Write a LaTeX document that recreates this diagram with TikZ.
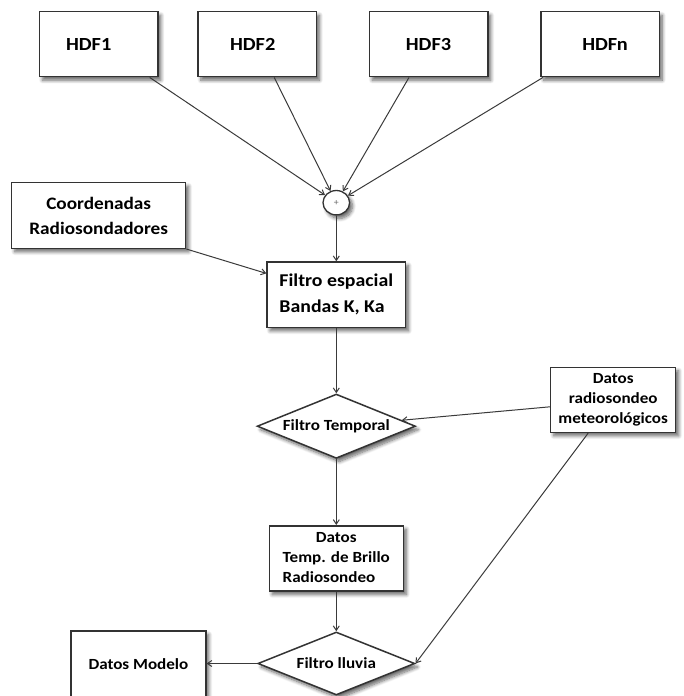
\documentclass[tikz,border=0pt]{standalone}
\usepackage{fontspec}
\setmainfont{Carlito}[FakeStretch=1.1]
\usetikzlibrary{shapes.geometric,arrows.meta,shadows.blur}

\definecolor{boxline}{HTML}{333333}
\definecolor{linecol}{HTML}{3A3A3A}

\begin{document}
\begin{tikzpicture}[x=1pt,y=-1pt,
  softshadow/.style={blur shadow={shadow xshift=3pt,shadow yshift=-3.5pt,
      shadow blur radius=3.5pt,shadow blur steps=8,shadow opacity=60}},
  box/.style={draw=boxline,line width=1.5pt,fill=white,softshadow,inner sep=0pt,
      align=center,font=\bfseries\fontsize{15.5}{20}\selectfont},
  hdfbox/.style={box,minimum width=118.5pt,minimum height=65pt,
      font=\bfseries\fontsize{18.5}{22}\selectfont},
  decision/.style={diamond,draw=boxline,line width=1.5pt,fill=white,softshadow,
      inner sep=0pt,aspect=2.47,font=\bfseries\fontsize{15.5}{20}\selectfont},
  link/.style={draw=linecol,line width=1pt,
      -{Straight Barb[length=4.5pt,width=6pt]}},
]
\useasboundingbox (0,0) rectangle (684,696);

% input files
\node[hdfbox] (h1) at (98.7,44.2) {\hspace*{-20pt}HDF1};
\node[hdfbox] (h2) at (257.2,44.2) {\hspace*{-9pt}HDF2};
\node[hdfbox] (h3) at (428.5,44.2) {HDF3};
\node[hdfbox] (hn) at (600,44.2) {\hspace*{10pt}HDFn};

% merge point
\node[ellipse,draw=boxline,line width=1.3pt,fill=white,softshadow,inner sep=0pt,
      minimum width=26.6pt,minimum height=24.4pt,text=black!60]
      (sum) at (336.3,202.7) {\fontsize{9}{9}\selectfont +};

% processing chain
\node[box,minimum width=174pt,minimum height=65.6pt,
      font=\bfseries\fontsize{17.5}{25}\selectfont]
      (coord) at (98.7,215.5) {Coordenadas\\Radiosondadores};
\node[box,minimum width=138.4pt,minimum height=65.3pt,align=left,
      font=\bfseries\fontsize{18}{26}\selectfont]
      (espacial) at (336.3,294.7) {Filtro espacial\\Bandas K, Ka};
\node[decision,minimum width=158.3pt,minimum height=64.3pt]
      (temporal) at (336.3,426.2) {Filtro Temporal};
\node[box,minimum width=125pt,minimum height=65pt]
      (radio) at (613.2,399.8) {Datos\\radiosondeo\\meteorológicos};
\node[box,minimum width=134.1pt,minimum height=65.3pt]
      (tb) at (336.3,558.4)
      {\begin{tabular}{@{}l@{}}\multicolumn{1}{@{}c@{}}{Datos}\\Temp. de Brillo\\Radiosondeo\end{tabular}};
\node[decision,minimum width=157pt,minimum height=63pt]
      (lluvia) at (336.3,663.5) {Filtro lluvia};
\node[box,minimum width=134.7pt,minimum height=67pt]
      (modelo) at (138.4,664.5) {Datos Modelo};

% connectors
\draw[link] ([xshift=51pt]h1.south) -- (sum);
\draw[link] ([xshift=17pt]h2.south) -- (sum);
\draw[link] ([xshift=-19.5pt]h3.south) -- (sum);
\draw[link] ([xshift=-57pt]hn.south) -- (sum);
\draw[link] (sum) -- (espacial);
\draw[link] (coord.south east) -- (espacial);
\draw[link] (espacial) -- (temporal);
\draw[link] ([yshift=-7pt]radio.west) -- (temporal);
\draw[link] (temporal) -- (tb);
\draw[link] (tb) -- (lluvia);
\draw[link] ([xshift=-25pt]radio.south) -- (lluvia.east);
\draw[link] (lluvia) -- (lluvia.west -| modelo.east);
\end{tikzpicture}
\end{document}
